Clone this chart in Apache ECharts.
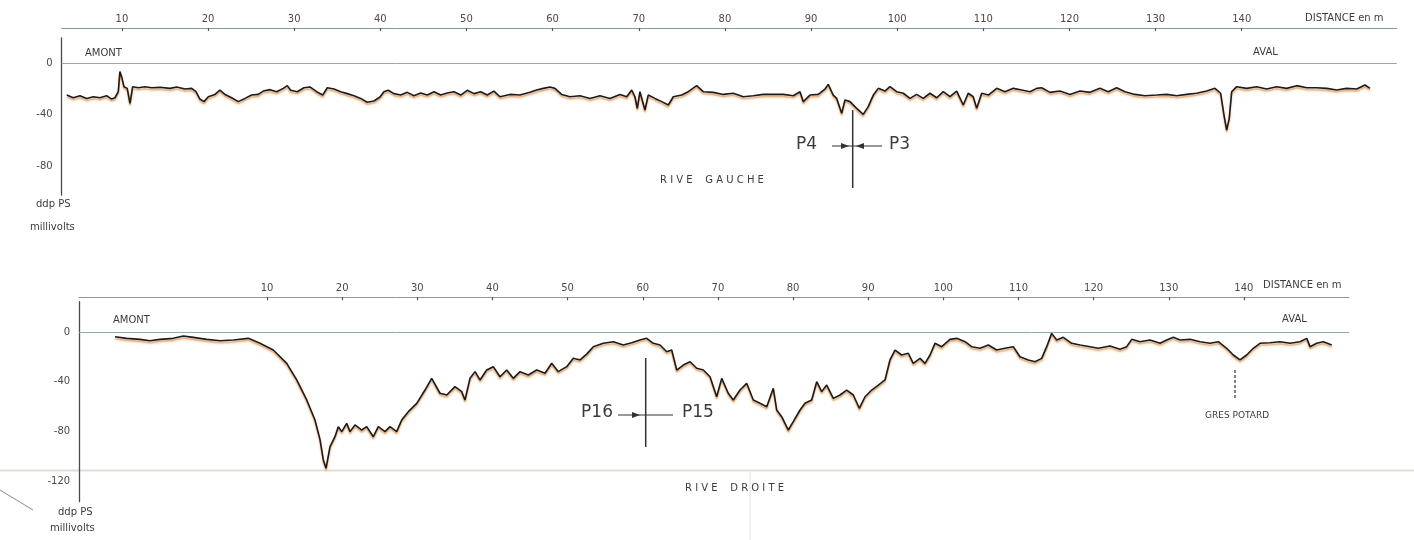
<!DOCTYPE html>
<html>
<head>
<meta charset="utf-8">
<title>Profils de polarisation spontanée</title>
<script src="https://cdn.jsdelivr.net/npm/echarts@6/dist/echarts.min.js"></script>
<style>
  html, body { margin: 0; padding: 0; background: #ffffff; }
  #chart { width: 1414px; height: 540px; }
</style>
</head>
<body>
<div id="chart"></div>
<script>
// Distance graduations (m) and potential graduations (mV)
const distanceTicks = [10, 20, 30, 40, 50, 60, 70, 80, 90, 100, 110, 120, 130, 140];
const potentialTicksGauche = [0, -40, -80];
const potentialTicksDroite = [0, -40, -80, -120];

// Rive gauche profile: distance (m) and PS potential (mV)
const gaucheDistance = [
  3.6, 4.35, 5.13, 5.91, 6.68, 7.45, 8.23, 8.81, 9.19, 9.58, 9.77, 9.97, 10.24, 10.62, 10.94, 11.25,
  11.9, 12.68, 13.45, 14.42, 15.58, 16.36, 17.32, 18.1, 18.6, 19.06, 19.53, 20.03, 20.8, 21.38, 21.96,
  22.74, 23.51, 24.29, 25.06, 25.83, 26.41, 27.19, 27.97, 28.73, 29.2, 29.59, 30.36, 31.13, 31.83,
  32.61, 33.31, 33.84, 34.62, 35.4, 36.16, 36.94, 37.72, 38.48, 39.26, 39.96, 40.42, 40.92, 41.58,
  42.36, 43.13, 43.9, 44.68, 45.45, 46.23, 47.0, 47.77, 48.55, 49.33, 50.09, 50.87, 51.65, 52.41,
  53.19, 53.89, 55.05, 56.21, 57.37, 58.15, 58.92, 59.69, 60.27, 61.05, 62.02, 63.18, 64.34, 65.5,
  66.66, 67.82, 68.6, 69.18, 69.56, 69.83, 70.14, 70.72, 71.1, 71.88, 72.66, 73.43, 74.01, 74.98,
  75.75, 76.72, 77.49, 78.65, 79.81, 80.97, 82.13, 83.29, 84.45, 85.62, 86.78, 87.94, 88.72, 89.1,
  89.88, 90.84, 91.62, 92.0, 92.58, 92.98, 93.56, 93.94, 94.52, 95.3, 96.06, 96.64, 97.23, 97.81,
  98.58, 99.16, 99.94, 100.71, 101.49, 102.26, 103.03, 103.81, 104.59, 105.35, 106.13, 106.91,
  107.67, 108.25, 108.83, 109.23, 109.81, 110.58, 111.55, 112.51, 113.48, 114.45, 115.42, 116.19,
  116.77, 117.74, 118.9, 120.06, 121.22, 122.38, 123.54, 124.5, 125.48, 126.44, 127.6, 128.77,
  130.12, 131.29, 132.45, 133.61, 134.77, 135.93, 136.89, 137.55, 137.94, 138.25, 138.55, 138.83,
  139.41, 140.57, 141.73, 142.89, 144.05, 145.21, 146.38, 147.54, 148.7, 149.86, 151.02, 152.18,
  153.34, 154.31, 154.89
];
const gauchePotential = [
  -24.9, -27, -25.4, -27.5, -26.2, -27, -25.4, -28, -27, -22.3, -6.7, -10.6, -18.4, -19.7, -31.3, -18.4,
  -19.2, -18.4, -19.2, -18.9, -19.7, -18.6, -20.2, -19.7, -22.3, -28, -30, -26.2, -24.4, -21, -24.4,
  -27, -30, -27.5, -24.9, -24.4, -21.8, -20.7, -22.3, -19.7, -17.6, -21.2, -22.3, -19.2, -18.6,
  -22.3, -24.9, -19.2, -20.2, -22.3, -23.8, -25.4, -27.5, -30.5, -29.5, -26.4, -22.3, -21.2, -23.8,
  -24.9, -22.8, -25.4, -23.3, -24.9, -22.3, -24.9, -23.3, -22.3, -24.9, -21.2, -23.8, -22.3, -24.9,
  -21.8, -26.2, -24.4, -24.9, -22.8, -21, -19.7, -18.6, -19.7, -24.4, -26.2, -25.4, -27.5, -25.4,
  -27.5, -24.4, -26.2, -21, -26.2, -35.2, -22.3, -36.5, -24.9, -27.5, -30, -32.6, -26.2, -24.9,
  -22.3, -17.6, -22.3, -22.8, -24.4, -23.5, -26.2, -25.4, -24.4, -24.4, -24.4, -25.4, -22.3, -30,
  -24.9, -24.4, -20.2, -16.6, -24.9, -27.5, -39.1, -28.7, -30, -35.2, -39.9, -33.9, -24.9, -19.7,
  -21.8, -18.4, -22.3, -23.5, -27.5, -24.4, -27.5, -23.5, -27, -22.3, -26.2, -21.8,
  -32.6, -23.5, -26.2, -35.2, -23.5, -24.9, -19.7, -22.3, -19.7, -21, -22.3, -19.7,
  -19.2, -22.8, -21.8, -24.4, -21.8, -22.8, -19.7, -22.3, -19.2, -22.3, -24.4, -25.4,
  -24.9, -24.4, -25.4, -24.4, -23.5, -21.8, -19.7, -23.5, -40.4, -52.1, -43, -22.3,
  -18.4, -19.7, -18.4, -20.2, -18.4, -19.7, -17.6, -19.2, -19.2, -19.7, -21, -19.7,
  -20.2, -17.1, -19.7
];

// Rive droite profile: distance (m) and PS potential (mV)
const droiteDistance = [
  -10.23, -8.68, -6.91, -5.58, -4.25, -2.48, -1.14, 0.19, 1.97, 3.74, 5.51, 7.51, 9.06, 10.83, 12.62,
  13.95, 15.28, 16.38, 17.05, 17.49, 17.85, 18.38, 19.04, 19.48, 19.94, 20.6, 21.04, 21.71, 22.6,
  23.26, 24.14, 24.81, 25.7, 26.36, 27.25, 27.92, 28.8, 29.92, 31.02, 31.91, 33.02, 33.91, 35.01,
  35.9, 36.34, 37.01, 37.68, 38.34, 39.23, 40.11, 41.0, 41.89, 42.77, 43.66, 44.77, 45.89, 46.99,
  47.88, 48.76, 49.88, 50.76, 51.65, 52.54, 53.42, 54.75, 56.08, 57.41, 58.53, 59.63, 60.52, 61.4,
  62.3, 63.19, 63.85, 64.52, 65.4, 66.29, 67.18, 68.06, 68.95, 69.84, 70.51, 71.38, 72.05, 72.94,
  73.83, 74.71, 75.6, 76.5, 77.37, 77.83, 78.49, 79.37, 80.03, 80.93, 81.59, 82.48, 83.15, 83.81,
  84.48, 85.36, 86.25, 87.14, 88.02, 88.82, 89.58, 90.47, 91.35, 92.24, 92.9, 93.57, 94.46, 95.34,
  96.0, 96.9, 97.56, 98.23, 98.89, 99.78, 100.89, 101.78, 102.89, 103.77, 104.88, 105.99, 107.1,
  108.21, 109.31, 110.2, 111.31, 112.2, 113.09, 113.76, 114.42, 115.09, 115.97, 117.08, 118.19,
  119.52, 120.63, 122.18, 123.51, 124.4, 125.07, 126.17, 127.5, 128.84, 129.73, 130.61, 131.5,
  132.83, 134.16, 135.49, 136.59, 137.71, 138.59, 139.48, 140.37, 141.25, 142.14, 143.47, 144.8,
  146.13, 147.47, 148.36, 148.8, 149.69, 150.57, 151.69
];
const droitePotential = [
  -3.8, -5.1, -5.9, -7, -5.9, -5.1, -3.2, -4.3, -5.9, -7, -6.4, -5.1, -9.1, -14.5, -25.2,
  -38.6, -54.7, -70.8, -86.6, -103, -109.7, -92.3, -84.3, -76.2, -80.2, -73.5, -80.2, -74.8, -78.9,
  -76.2, -84.3, -76.2, -80.2, -76.2, -80.2, -70.8, -64.1, -57.4, -46.7, -37.3, -49.3, -50.7, -44,
  -48, -54.7, -37.3, -31.9, -38.6, -30.6, -27.9, -36, -30.6, -37.3, -31.9, -34.6, -30.6, -33.2,
  -25.2, -31.9, -27.9, -21.2, -22.5, -17.8, -11.8, -9.1, -7.8, -10.5, -8.6, -6.4, -5.1, -9.1,
  -10.5, -15.9, -14.5, -30.6, -26.6, -23.9, -29.2, -30.6, -36, -52.1, -37.3, -49.3, -54.7, -46.7,
  -41.3, -54.7, -57.4, -60.1, -45.3, -62.8, -68.2, -78.9, -72.2, -62.8, -57.4, -54.7, -40, -48,
  -42.7, -53.4, -50.7, -46.7, -50.7, -61.4, -52.1, -46.7, -42.7, -38.6, -22.5, -14.5, -18.5, -17.1,
  -25.2, -21.2, -25.2, -18.5, -9.1, -11.8, -5.9, -5.1, -7.8, -11.8, -13.1, -10.5, -14.5,
  -13.1, -11.8, -19.9, -22.5, -23.9, -21.2, -11.8, -1.1, -6.4, -4.3, -9.1, -10.5,
  -11.8, -13.1, -11.3, -13.9, -11.8, -5.9, -7.8, -6.4, -9.1, -6.4, -4.3, -6.4,
  -5.9, -7.8, -9.1, -7.8, -13.1, -18.5, -22.5, -18.5, -13.1, -9.1, -8.6, -7.8,
  -9.1, -7.8, -5.1, -11.8, -9.1, -7.8, -10.5
];

const FONT = 'DejaVu Sans';
const INK = '#3b3b3b';

function pairs(xs, ys) {
  return xs.map((x, i) => [x, ys[i]]);
}

function distanceAxis(gridIndex, min, max, offset) {
  return {
    gridIndex: gridIndex,
    type: 'value',
    position: 'top',
    min: min,
    max: max,
    offset: offset,
    axisLine: { show: true, onZero: false, lineStyle: { color: '#8796a0', width: 1 } },
    axisTick: { show: true, inside: true, length: 3, customValues: distanceTicks,
      lineStyle: { color: '#555', width: 1.2 } },
    axisLabel: { show: true, customValues: distanceTicks, margin: 4, fontSize: 10,
      fontFamily: FONT, color: '#4a4a4a' },
    splitLine: { show: false }
  };
}

function potentialAxis(gridIndex, min, max, ticks) {
  return {
    gridIndex: gridIndex,
    type: 'value',
    min: min,
    max: max,
    axisLine: { show: true, onZero: false, lineStyle: { color: '#4a4a4a', width: 1.3 } },
    axisTick: { show: false },
    axisLabel: { show: true, customValues: ticks, margin: 9, fontSize: 10,
      fontFamily: FONT, color: '#4a4a4a' },
    splitLine: { show: false }
  };
}

function profileSeries(axisIndex, data) {
  return {
    type: 'line',
    xAxisIndex: axisIndex,
    yAxisIndex: axisIndex,
    data: data,
    showSymbol: false,
    silent: true,
    lineStyle: {
      color: '#1d1b1a',
      width: 1.6,
      shadowColor: 'rgba(232, 142, 64, 0.9)',
      shadowBlur: 1.5,
      shadowOffsetY: 2
    },
    markLine: {
      silent: true,
      symbol: 'none',
      label: { show: false },
      lineStyle: { color: '#97a8b0', width: 1, type: 'solid' },
      data: [{ yAxis: 0 }]
    },
    z: 3
  };
}

function txt(x, y, text, size, align) {
  return {
    type: 'text', x: x, y: y, silent: true,
    style: {
      text: text, fontSize: size, fontFamily: FONT, fill: INK,
      align: align || 'left', verticalAlign: 'middle',
      textAlign: align || 'left', textVerticalAlign: 'middle'
    }
  };
}

function seg(x1, y1, x2, y2, color, width, dash) {
  return {
    type: 'line', silent: true,
    shape: { x1: x1, y1: y1, x2: x2, y2: y2 },
    style: { stroke: color, lineWidth: width, lineDash: dash || null }
  };
}

function arrow(points) {
  return { type: 'polygon', silent: true, shape: { points: points }, style: { fill: '#333' } };
}

const chart = echarts.init(document.getElementById('chart'), null, { renderer: 'canvas' });

chart.setOption({
  animation: false,
  backgroundColor: '#ffffff',
  textStyle: { fontFamily: FONT },
  grid: [
    { left: 61.6, right: 17.2, top: 38, height: 157 },
    { left: 79.2, right: 64.9, top: 301.7, height: 200 }
  ],
  xAxis: [
    distanceAxis(0, 3, 158, 10),
    distanceAxis(1, -15, 154, 4.4)
  ],
  yAxis: [
    potentialAxis(0, -102.5, 19.4, potentialTicksGauche),
    potentialAxis(1, -136.6, 24.4, potentialTicksDroite)
  ],
  series: [
    profileSeries(0, pairs(gaucheDistance, gauchePotential)),
    profileSeries(1, pairs(droiteDistance, droitePotential))
  ],
  graphic: [
    // sheet edges
    seg(0, 470.5, 1414, 470.5, '#e3dcd1', 2),
    seg(750, 472, 750, 540, '#efede9', 1.5),
    seg(0, 490, 33, 510, '#8c8c8c', 1),

    // rive gauche
    txt(85, 53, 'AMONT', 10),
    txt(1253, 52, 'AVAL', 10),
    txt(1305, 18, 'DISTANCE en m', 10),
    txt(36, 204, 'ddp PS', 10),
    txt(30, 227, 'millivolts', 10),
    seg(852.7, 110, 852.7, 188, '#333', 1.5),
    seg(832, 146, 882, 146, '#333', 1.2),
    arrow([[841, 143], [849, 146], [841, 149]]),
    arrow([[864, 143], [856, 146], [864, 149]]),
    txt(817, 145, 'P4', 17, 'right'),
    txt(889, 145, 'P3', 17),
    txt(660, 180, 'R I V E    G A U C H E', 10),

    // rive droite
    txt(113, 320, 'AMONT', 10),
    txt(1282, 319, 'AVAL', 10),
    txt(1263, 285, 'DISTANCE en m', 10),
    txt(58, 512, 'ddp PS', 10),
    txt(50, 528, 'millivolts', 10),
    seg(645.7, 358, 645.7, 447, '#333', 1.5),
    seg(618, 415, 673, 415, '#333', 1.2),
    arrow([[632, 412], [640, 415], [632, 418]]),
    txt(613, 413, 'P16', 17, 'right'),
    txt(682, 413, 'P15', 17),
    txt(685, 488, 'R I V E    D R O I T E', 10),
    seg(1235, 370, 1235, 400, '#333', 1.2, [3, 2]),
    txt(1205, 416, 'GRES POTARD', 9)
  ]
});
</script>
</body>
</html>
